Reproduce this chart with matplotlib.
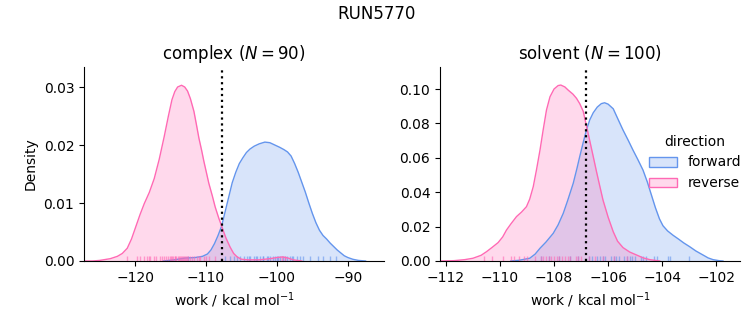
import matplotlib
matplotlib.use("Agg")
import matplotlib.pyplot as plt
from matplotlib.patches import Patch
from matplotlib.ticker import FormatStrFormatter

BLUE = "#6495ED"
PINK = "#FF69B4"

# ---- complex (N = 90) : density curves ----
cplx_fwd_x = [-116.0, -114.5, -113.0, -111.5, -110.5, -109.8, -109.3, -108.8, -108.3, -107.8,
              -107.3, -106.8, -106.3, -105.8, -105.3, -104.8, -104.3, -103.8, -103.2, -102.5,
              -101.7, -101.0, -100.3, -99.6, -99.0, -98.5, -98.0, -97.5, -97.0, -96.5,
              -96.0, -95.5, -95.0, -94.5, -94.0, -93.5, -93.0, -92.5, -92.0, -91.5,
              -91.0, -90.5, -90.0, -89.3, -88.5, -87.5]
cplx_fwd_y = [0.0000, 0.0002, 0.0005, 0.0006, 0.0008, 0.0012, 0.0019, 0.0030, 0.0044, 0.0060,
              0.0085, 0.0110, 0.0135, 0.0153, 0.0168, 0.0178, 0.0187, 0.0193, 0.0198, 0.0202,
              0.0205, 0.0204, 0.0200, 0.0196, 0.0192, 0.0188, 0.0181, 0.0168, 0.0153, 0.0136,
              0.0119, 0.0100, 0.0082, 0.0066, 0.0053, 0.0044, 0.0038, 0.0031, 0.0025, 0.0019,
              0.0014, 0.0009, 0.0006, 0.0003, 0.0001, 0.0000]
cplx_rev_x = [-127.0, -126.0, -125.0, -123.5, -122.5, -121.8, -121.1, -120.5, -119.9, -119.3,
              -118.7, -118.0, -117.3, -116.6, -115.9, -115.3, -114.8, -114.4, -114.0, -113.45,
              -113.0, -112.6, -112.2, -111.7, -111.3, -111.0, -110.6, -110.3, -109.6, -109.1,
              -108.7, -108.2, -107.7, -107.2, -106.6, -106.1, -105.6, -105.0, -104.0, -102.5,
              -101.0, -100.0, -99.2, -98.4, -97.7, -96.5]
cplx_rev_y = [0.0000, 0.0000, 0.0001, 0.0004, 0.0008, 0.0013, 0.0022, 0.0038, 0.0059, 0.0080,
              0.0099, 0.0118, 0.0142, 0.0175, 0.0214, 0.0250, 0.0278, 0.0292, 0.0300, 0.0303,
              0.0300, 0.0293, 0.0280, 0.0258, 0.0232, 0.0212, 0.0190, 0.0172, 0.0134, 0.0112,
              0.0093, 0.0074, 0.0057, 0.0040, 0.0024, 0.0013, 0.0007, 0.0003, 0.0002, 0.0002,
              0.0004, 0.0006, 0.0007, 0.0005, 0.0002, 0.0000]
cplx_fwd_rug = [-112.5, -107.3, -106.6, -106.1, -105.6, -105.2, -104.7, -104.2, -103.8, -103.3,
                -102.8, -102.4, -101.9, -101.4, -101.0, -100.5, -100.0, -99.5, -99.1, -98.6,
                -98.1, -97.7, -97.2, -96.7, -96.3, -95.3, -94.2, -93.5, -92.5, -91.6,
                -104.0, -103.0, -102.0, -101.2, -100.2, -99.8, -98.9, -97.9]
cplx_rev_rug = [-121.2, -119.7, -119.3, -118.7, -118.3, -118.0, -117.9, -117.3, -117.0, -116.5,
                -116.2, -115.9, -115.6, -115.4, -115.1, -114.9, -114.8, -114.6, -114.4, -114.3,
                -114.2, -114.0, -113.8, -113.7, -113.5, -113.4, -113.2, -113.1, -113.0, -112.8,
                -112.7, -112.5, -112.2, -112.0, -111.7, -111.3, -111.0, -110.8, -110.3, -110.0,
                -109.6, -108.7, -99.3, -98.8]

# ---- solvent (N = 100) ----
solv_fwd_x = [-109.6, -109.3, -108.9, -108.7, -108.52, -108.3, -108.03, -107.85, -107.66, -107.5,
              -107.29, -107.15, -107.05, -106.92, -106.80, -106.68, -106.55, -106.4, -106.25,
              -106.13, -106.0, -105.81, -105.65, -105.45, -105.25, -105.08, -104.9, -104.71,
              -104.55, -104.4, -104.25, -104.1, -103.97, -103.8, -103.6, -103.4, -103.2,
              -102.98, -102.75, -102.49, -102.3, -102.12, -101.9, -101.75]
solv_fwd_y = [0.0000, 0.0004, 0.0016, 0.0040, 0.0074, 0.0110, 0.0161, 0.0210, 0.0277, 0.0350,
              0.0452, 0.0540, 0.0607, 0.0690, 0.0762, 0.0820, 0.0862, 0.0895, 0.0915,
              0.0920, 0.0912, 0.0885, 0.0830, 0.0762, 0.0700, 0.0645, 0.0590, 0.0529,
              0.0460, 0.0385, 0.0310, 0.0245, 0.0205, 0.0175, 0.0150, 0.0128, 0.0105,
              0.0083, 0.0058, 0.0035, 0.0018, 0.0008, 0.0002, 0.0000]
solv_rev_x = [-112.2, -111.7, -111.3, -111.0, -110.7, -110.5, -110.3, -110.07, -109.9, -109.76,
              -109.6, -109.39, -109.2, -109.02, -108.9, -108.77, -108.65, -108.52, -108.4,
              -108.28, -108.15, -108.0, -107.85, -107.75, -107.6, -107.48, -107.3, -107.17,
              -107.05, -106.92, -106.8, -106.68, -106.55, -106.43, -106.3, -106.19, -106.0,
              -105.81, -105.65, -105.45, -105.2, -104.95, -104.7, -104.46, -104.09]
solv_rev_y = [0.0000, 0.0002, 0.0008, 0.0016, 0.0033, 0.0054, 0.0078, 0.0107, 0.0140, 0.0180,
              0.0215, 0.0258, 0.0285, 0.0316, 0.0360, 0.0432, 0.0530, 0.0645, 0.0765,
              0.0878, 0.0955, 0.1000, 0.1020, 0.1023, 0.1012, 0.0994, 0.0970, 0.0946,
              0.0915, 0.0870, 0.0785, 0.0700, 0.0607, 0.0520, 0.0430, 0.0355, 0.0255,
              0.0170, 0.0115, 0.0078, 0.0052, 0.0035, 0.0018, 0.0008, 0.0000]
solv_fwd_rug = [-108.5, -108.2, -107.8, -107.4, -107.1, -106.7, -106.6, -106.4, -106.3, -106.2,
                -106.1, -105.9, -105.8, -105.7, -105.6, -105.4, -105.3, -105.2, -105.1, -105.0,
                -104.8, -104.7, -104.6, -104.3, -104.2, -103.8, -103.7, -103.0]
solv_rev_rug = [-110.6, -110.3, -109.9, -109.6, -109.5, -109.3, -109.1, -109.0, -108.7, -108.5,
                -108.4, -108.3, -108.2, -108.1, -108.0, -107.9, -107.8, -107.7, -107.6, -107.5,
                -107.4, -107.2, -107.1, -107.0, -106.7, -106.5, -106.2, -105.8, -105.3]

vline_complex = -107.78
vline_solvent = -106.83

panels = [
    ("complex ($N = 90$)", cplx_fwd_x, cplx_fwd_y, cplx_rev_x, cplx_rev_y,
     cplx_fwd_rug, cplx_rev_rug, vline_complex, (-127.2, -84.9), (0, 0.03345),
     [-120, -110, -100, -90], [0.0, 0.01, 0.02, 0.03]),
    ("solvent ($N = 100$)", solv_fwd_x, solv_fwd_y, solv_rev_x, solv_rev_y,
     solv_fwd_rug, solv_rev_rug, vline_solvent, (-112.22, -101.12), (0, 0.1128),
     [-112, -110, -108, -106, -104, -102], [0.0, 0.02, 0.04, 0.06, 0.08, 0.10]),
]

fig = plt.figure(figsize=(7.53, 3.25), dpi=100)
lefts = [84 / 753, 440 / 753]
for i, (title, fx, fy, rx, ry, frug, rrug, vl, xlim, ylim, xt, yt) in enumerate(panels):
    ax = fig.add_axes([lefts[i], 64 / 325, 300 / 753, 194 / 325])
    for x, y, rug, c in [(fx, fy, frug, BLUE), (rx, ry, rrug, PINK)]:
        ax.fill_between(x, y, 0, color=c, alpha=0.25, lw=0)
        ax.plot(x, y, color=c, lw=1)
        ax.vlines(rug, 0, 0.025, transform=ax.get_xaxis_transform(), color=c,
                  alpha=0.6, lw=1)
    ax.axvline(vl, color="black", ls=":", lw=1.6)
    ax.set_xlim(*xlim)
    ax.set_ylim(*ylim)
    ax.set_xticks(xt)
    ax.set_yticks(yt)
    ax.yaxis.set_major_formatter(FormatStrFormatter("%.2f"))
    ax.set_title(title, fontsize=12)
    ax.set_xlabel("work / kcal mol$^{-1}$")
    if i == 0:
        ax.set_ylabel("Density")
    ax.spines["top"].set_visible(False)
    ax.spines["right"].set_visible(False)

fig.suptitle("RUN5770", fontsize=12, y=0.985)
handles = [Patch(facecolor=(0.392, 0.584, 0.929, 0.25), edgecolor=BLUE, label="forward"),
           Patch(facecolor=(1.0, 0.412, 0.706, 0.25), edgecolor=PINK, label="reverse")]
fig.legend(handles=handles, title="direction", loc="center left",
           bbox_to_anchor=(0.845, 0.50), frameon=False)
fig.savefig("out.png", dpi=100)
